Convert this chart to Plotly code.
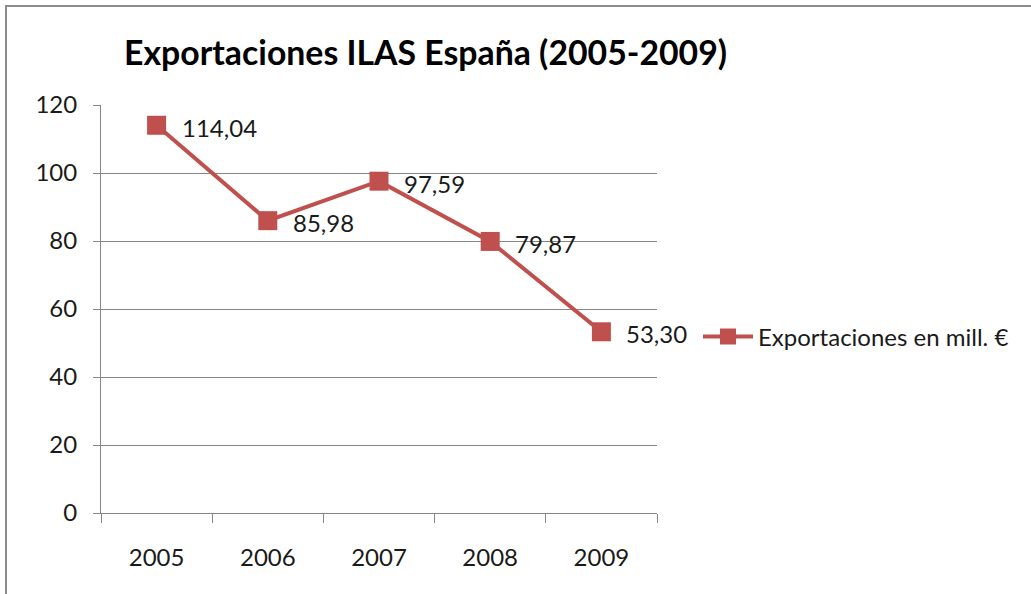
import plotly.graph_objects as go

years = ["2005", "2006", "2007", "2008", "2009"]
exports = [114.04, 85.98, 97.59, 79.87, 53.30]
labels = ["114,04", "85,98", "97,59", "79,87", "53,30"]
y_ticks = [0, 20, 40, 60, 80, 100, 120]

title = "Exportaciones ILAS España (2005-2009)"
series_name = "Exportaciones en mill. €"

RED = "#C0504D"
GRID = "#868686"
TXT = "#1a1a1a"
FONT = "Lato"
FS = 24

W, H = 1031, 594
L, R, T, B = 101, 657, 105, 513

fig = go.Figure()
fig.add_trace(go.Scatter(
    x=years, y=exports, mode="lines+markers", name=series_name,
    line=dict(color=RED, width=4),
    marker=dict(symbol="square", size=19, color=RED),
))

for i, (v, lab) in enumerate(zip(exports, labels)):
    fig.add_annotation(x=i, y=v, xref="x", yref="y", text=lab, showarrow=False,
                       xanchor="left", yanchor="middle", xshift=23, yshift=-2,
                       font=dict(family=FONT, size=FS, color=TXT))

def px_x(p):
    return (p - L) / (R - L)

def px_y(p):
    return (B - p) / (B - T)

fig.add_annotation(text=f"<b>{title}</b>", xref="paper", yref="paper",
                   x=px_x(122), y=px_y(52), xanchor="left", yanchor="middle",
                   showarrow=False, font=dict(family=FONT, size=33.8, color="#000000"))

fig.add_shape(type="rect", xref="paper", yref="paper",
              x0=px_x(6), x1=px_x(1045), y0=px_y(6), y1=px_y(610),
              line=dict(color="#8c8c8c", width=2), fillcolor="rgba(0,0,0,0)", layer="below")

fig.update_layout(
    width=W, height=H,
    margin=dict(l=L, r=W - R, t=T, b=H - B, pad=0),
    paper_bgcolor="white", plot_bgcolor="white",
    showlegend=True,
    legend=dict(x=px_x(698), y=px_y(337), xanchor="left", yanchor="middle",
                font=dict(family=FONT, size=FS, color=TXT),
                bgcolor="rgba(0,0,0,0)", itemwidth=50),
    font=dict(family=FONT, size=FS, color=TXT),
)
fig.update_xaxes(
    type="category", range=[-0.5, 4.5], showgrid=False,
    showline=True, linecolor=GRID, linewidth=1,
    ticks="outside", tickson="boundaries", ticklen=9, tickcolor=GRID,
    ticklabelstandoff=23, tickfont=dict(family=FONT, size=FS, color=TXT),
)
fig.update_yaxes(
    range=[0, 120], tickvals=y_ticks, showgrid=True, gridcolor=GRID, gridwidth=1,
    showline=True, linecolor=GRID, linewidth=1,
    ticks="outside", ticklen=7, tickcolor=GRID, zeroline=False,
    ticklabelstandoff=11, tickfont=dict(family=FONT, size=FS, color=TXT),
)

fig.write_html("out.html", config={"displayModeBar": False},
               post_script="document.body.style.margin='0';")
